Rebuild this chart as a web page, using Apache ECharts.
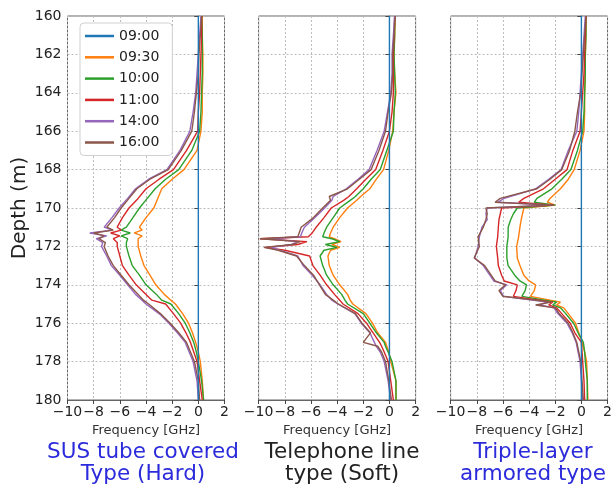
<!DOCTYPE html>
<html>
<head>
<meta charset="utf-8">
<script src="https://cdn.jsdelivr.net/npm/echarts@6/dist/echarts.min.js"></script>
<style>
  html, body { margin: 0; padding: 0; background: #fff; }
  #depth-chart { width: 615px; height: 490px; }
</style>
</head>
<body>
<div id="depth-chart"></div>
<script>
// 时间（图例）
var times = ['09:00', '09:30', '10:00', '11:00', '14:00', '16:00'];
var colors = ['#1f77b4', '#ff7f0e', '#2ca02c', '#d62728', '#9467bd', '#8c564b'];
var xTicks = [-10, -8, -6, -4, -2, 0, 2];
var yTicks = [160, 162, 164, 166, 168, 170, 172, 174, 176, 178, 180];

// 09:00 基准线
var baseDepth = [160, 180];
var baseFreq = [0, 0];

// 面板1: SUS tube covered
var depth1 = [160, 161, 162, 163, 164, 165, 166, 167, 168, 168.5, 169, 169.5, 170, 170.5, 171, 171.15, 171.3, 171.45, 171.6, 171.8, 172, 172.5, 173, 173.5, 174, 174.5, 174.8, 175, 175.5, 176, 176.5, 177, 177.5, 178, 179, 180];
var p1_0930 = [0.3, 0.3, 0.35, 0.35, 0.3, 0.3, 0.2, -0.1, -1.1, -2.0, -2.8, -3.1, -3.4, -4.0, -4.5, -4.3, -4.9, -4.3, -4.6, -4.6, -4.6, -4.4, -4.15, -3.7, -3.25, -2.6, -2.1, -1.75, -1.2, -0.75, -0.45, -0.2, 0.0, 0.15, 0.3, 0.4];
var p1_1000 = [0.25, 0.3, 0.3, 0.3, 0.25, 0.2, 0.1, -0.5, -1.5, -2.5, -3.3, -3.9, -4.5, -5.0, -5.5, -5.9, -5.2, -5.9, -5.4, -5.5, -5.5, -5.3, -5.05, -4.5, -4.0, -3.2, -2.8, -2.1, -1.5, -1.0, -0.65, -0.35, -0.15, 0.0, 0.25, 0.4];
var p1_1100 = [0.25, 0.25, 0.2, 0.15, 0.1, 0.0, -0.05, -0.9, -1.9, -3.0, -4.0, -4.6, -5.3, -5.8, -6.2, -5.9, -6.7, -6.0, -6.5, -6.2, -6.2, -6.0, -5.8, -5.3, -4.75, -4.0, -3.55, -2.5, -1.9, -1.35, -0.95, -0.6, -0.35, -0.1, 0.1, 0.3];
var p1_1400 = [0.2, 0.1, 0.0, -0.1, -0.2, -0.4, -0.65, -1.4, -2.4, -3.8, -4.8, -5.4, -6.05, -6.6, -7.2, -6.6, -8.3, -7.0, -7.8, -7.3, -7.4, -7.0, -6.65, -6.0, -5.4, -4.8, -4.3, -4.0, -3.0, -2.25, -1.6, -1.0, -0.7, -0.4, -0.1, 0.0];
var p1_1600 = [0.25, 0.15, 0.05, 0.0, -0.15, -0.3, -0.5, -1.3, -2.3, -3.7, -4.7, -5.3, -5.9, -6.4, -7.0, -6.5, -8.0, -7.2, -7.6, -7.1, -7.2, -6.9, -6.5, -5.9, -5.3, -4.6, -4.2, -3.8, -2.9, -2.15, -1.5, -0.9, -0.6, -0.3, 0.0, 0.1];

// 面板2: Telephone line type
var depth2 = [160, 161, 162, 163, 164, 165, 166, 167, 168, 168.5, 169, 169.4, 169.6, 170, 170.5, 171, 171.3, 171.5, 171.6, 171.75, 171.9, 172.05, 172.2, 172.5, 173, 173.5, 174, 174.5, 174.8, 175, 175.5, 176, 176.5, 177, 177.2, 177.5, 178, 179, 180];
var p2_0930 = [0.45, 0.4, 0.35, 0.4, 0.5, 0.35, 0.25, -0.05, -0.45, -1.0, -1.5, -2.2, -2.5, -3.2, -3.8, -4.3, -4.5, -4.6, -4.2, -3.7, -4.4, -3.8, -4.5, -4.7, -4.6, -4.3, -3.8, -3.2, -3.0, -2.8, -1.8, -1.3, -0.9, -0.3, -0.2, -0.05, 0.1, 0.5, 0.5];
var p2_1000 = [0.4, 0.4, 0.35, 0.4, 0.45, 0.35, 0.3, -0.2, -0.7, -1.4, -2.0, -2.6, -3.0, -3.8, -4.3, -4.8, -5.0, -5.1, -4.4, -3.8, -4.9, -4.0, -5.0, -5.3, -5.1, -4.8, -4.3, -3.65, -3.4, -3.2, -2.0, -1.5, -1.0, -0.4, -0.3, -0.1, 0.2, 0.5, 0.5];
var p2_1100 = [0.4, 0.35, 0.3, 0.3, 0.3, 0.2, 0.0, -0.5, -1.05, -1.8, -2.5, -3.1, -3.5, -4.45, -5.0, -5.6, -5.9, -6.2, -9.9, -6.3, -7.0, -9.5, -8.0, -6.1, -5.85, -5.3, -4.8, -4.2, -3.8, -3.55, -2.4, -1.75, -1.25, -0.75, -0.6, -0.4, -0.1, 0.1, 0.3];
var p2_1400 = [0.4, 0.3, 0.2, 0.2, 0.1, -0.15, -0.4, -0.95, -1.55, -2.4, -3.3, -4.3, -4.4, -4.95, -5.7, -6.5, -6.7, -6.8, -9.3, -7.0, -7.5, -9.0, -8.4, -7.0, -6.6, -5.9, -5.3, -4.8, -4.4, -3.95, -2.65, -2.15, -1.5, -1.15, -1.0, -0.7, -0.4, -0.1, 0.1];
var p2_1600 = [0.45, 0.35, 0.25, 0.25, 0.15, -0.1, -0.3, -0.8, -1.4, -2.3, -3.2, -4.6, -4.5, -5.1, -5.8, -6.75, -6.9, -7.0, -9.9, -6.8, -7.4, -9.6, -8.5, -7.1, -6.5, -5.8, -5.35, -4.9, -4.3, -3.9, -2.6, -2.1, -1.45, -2.0, -0.9, -0.6, -0.3, -0.05, 0.15];

// 面板3: Triple-layer armored type
var depth3 = [160, 161, 162, 163, 164, 165, 166, 167, 168, 168.5, 169, 169.5, 169.7, 169.85, 170, 170.3, 170.6, 171, 171.5, 172, 172.6, 173, 173.5, 173.8, 174, 174.3, 174.6, 174.9, 175.05, 175.2, 175.5, 176, 176.5, 177, 177.5, 178, 179, 180];
var p3_0930 = [0.35, 0.35, 0.3, 0.3, 0.25, 0.25, 0.2, -0.1, -0.55, -1.0, -1.6, -2.4, -2.6, -2.0, -4.4, -4.5, -4.6, -4.7, -4.8, -4.95, -4.9, -4.7, -4.4, -4.0, -3.5, -3.6, -3.9, -1.6, -1.9, -1.35, -1.0, -0.45, -0.2, 0.05, 0.25, 0.4, 0.45, 0.5];
var p3_1000 = [0.35, 0.35, 0.3, 0.3, 0.25, 0.2, 0.1, -0.3, -0.8, -1.5, -2.25, -3.4, -3.6, -2.0, -4.9, -5.2, -5.4, -5.6, -5.6, -5.7, -5.7, -5.6, -5.1, -4.7, -4.2, -4.3, -4.55, -1.9, -2.2, -1.6, -1.2, -0.6, -0.25, 0.15, 0.25, 0.3, 0.45, 0.45];
var p3_1100 = [0.35, 0.3, 0.25, 0.2, 0.1, 0.0, -0.1, -0.65, -1.1, -2.0, -2.9, -4.4, -4.8, -2.1, -6.1, -6.2, -6.3, -6.35, -6.4, -6.5, -6.4, -6.35, -6.1, -5.9, -4.9, -5.0, -5.2, -2.2, -2.5, -1.9, -1.5, -0.85, -0.5, 0.0, 0.05, 0.1, 0.2, 0.25];
var p3_1400 = [0.3, 0.2, 0.1, 0.0, -0.1, -0.2, -0.35, -1.0, -1.55, -2.5, -3.5, -5.9, -6.4, -2.3, -7.2, -7.3, -7.2, -7.6, -7.8, -7.9, -8.15, -7.5, -7.0, -6.7, -5.7, -6.2, -5.95, -2.6, -3.2, -2.1, -1.8, -1.1, -0.7, -0.4, -0.25, -0.1, 0.0, 0.1];
var p3_1600 = [0.35, 0.25, 0.15, 0.05, -0.05, -0.3, -0.5, -0.9, -1.5, -2.4, -3.4, -6.2, -6.6, -2.1, -7.3, -7.2, -7.3, -7.5, -7.9, -7.8, -8.2, -7.4, -6.9, -6.6, -5.8, -6.3, -6.0, -2.3, -3.5, -2.0, -1.7, -1.0, -0.65, -0.35, -0.2, -0.05, 0.05, 0.15];

var panels = [
    { depth: depth1, lines: [p1_0930, p1_1000, p1_1100, p1_1400, p1_1600] },
    { depth: depth2, lines: [p2_0930, p2_1000, p2_1100, p2_1400, p2_1600] },
    { depth: depth3, lines: [p3_0930, p3_1000, p3_1100, p3_1400, p3_1600] }
];

// 把频率和深度组合成点
function toPoints(freq, depth) {
    let pts = [];
    for (let i = 0; i < freq.length; i++) {
        pts.push([freq[i], depth[i]]);
    }
    return pts;
}

var gridLefts = [67.5, 258.6, 450.6];
var grids = [], xAxes = [], yAxes = [], series = [];
var tickFont = { fontFamily: 'DejaVu Sans', fontSize: 14, color: '#222' };
var dotted = { show: true, lineStyle: { color: '#bdbdbd', type: [2, 2], width: 1 } };

for (let p = 0; p < 3; p++) {
    grids.push({
        left: gridLefts[p], top: 16, width: 157, height: 384,
        show: true, borderColor: '#666', borderWidth: 1, backgroundColor: 'transparent'
    });
    xAxes.push({
        type: 'value', gridIndex: p, min: xTicks[0], max: xTicks[xTicks.length - 1], interval: 2,
        axisLine: { show: true, lineStyle: { color: '#666' } },
        axisTick: { show: true, length: 4, lineStyle: { color: '#444' } },
        axisLabel: Object.assign({ margin: 5, formatter: function (v) { return String(v).replace('-', '\u2212'); } }, tickFont),
        splitLine: dotted,
        name: 'Frequency [GHz]', nameLocation: 'middle', nameGap: 23,
        nameTextStyle: { fontFamily: 'DejaVu Sans', fontSize: 13, color: '#333' }
    });
    yAxes.push({
        type: 'value', gridIndex: p, inverse: true, min: yTicks[0], max: yTicks[yTicks.length - 1], interval: 2,
        axisLine: { show: true, lineStyle: { color: '#666' } },
        axisTick: { show: true, length: 4, lineStyle: { color: '#444' } },
        axisLabel: Object.assign({ show: p === 0, margin: 6 }, tickFont),
        splitLine: dotted,
        name: p === 0 ? 'Depth (m)' : '', nameLocation: 'middle', nameGap: 38, nameRotate: 90,
        nameTextStyle: { fontFamily: 'DejaVu Sans', fontSize: 20, color: '#222' }
    });
    // 09:00 基准线
    series.push({
        name: times[0], type: 'line', xAxisIndex: p, yAxisIndex: p,
        data: toPoints(baseFreq, baseDepth), showSymbol: false, silent: true,
        lineStyle: { color: colors[0], width: 1.4 }, itemStyle: { color: colors[0] }, z: 3
    });
    for (let s = 0; s < 5; s++) {
        series.push({
            name: times[s + 1], type: 'line', xAxisIndex: p, yAxisIndex: p,
            data: toPoints(panels[p].lines[s], panels[p].depth), showSymbol: false, silent: true,
            lineStyle: { color: colors[s + 1], width: 1.4 }, itemStyle: { color: colors[s + 1] }, z: 2
        });
    }
}

var captionFont = '21.5px "DejaVu Sans"';
var captions = [
    { x: 143, text: 'SUS tube covered\nType (Hard)', color: '#2b2bdc' },
    { x: 342, text: 'Telephone line\ntype (Soft)', color: '#222' },
    { x: 533, text: 'Triple-layer\narmored type', color: '#2b2bdc' }
];
var graphics = captions.map(function (c) {
    return {
        type: 'text', x: c.x, y: 441,
        style: { text: c.text, fill: c.color, font: captionFont, align: 'center', lineHeight: 22.5 }
    };
});

var myChart = echarts.init(document.getElementById('depth-chart'));
myChart.setOption({
    animation: false,
    color: colors,
    grid: grids,
    xAxis: xAxes,
    yAxis: yAxes,
    legend: {
        data: times, orient: 'vertical', left: 80, top: 23,
        icon: 'rect', itemWidth: 29, itemHeight: 2.5, itemGap: 5.3,
        padding: [5, 13, 5, 5],
        backgroundColor: '#fff', borderColor: '#d0d0d0', borderWidth: 1, borderRadius: 4,
        textStyle: { fontFamily: 'DejaVu Sans', fontSize: 14, color: '#222', lineHeight: 16 }
    },
    graphic: graphics,
    series: series
});
</script>
</body>
</html>
